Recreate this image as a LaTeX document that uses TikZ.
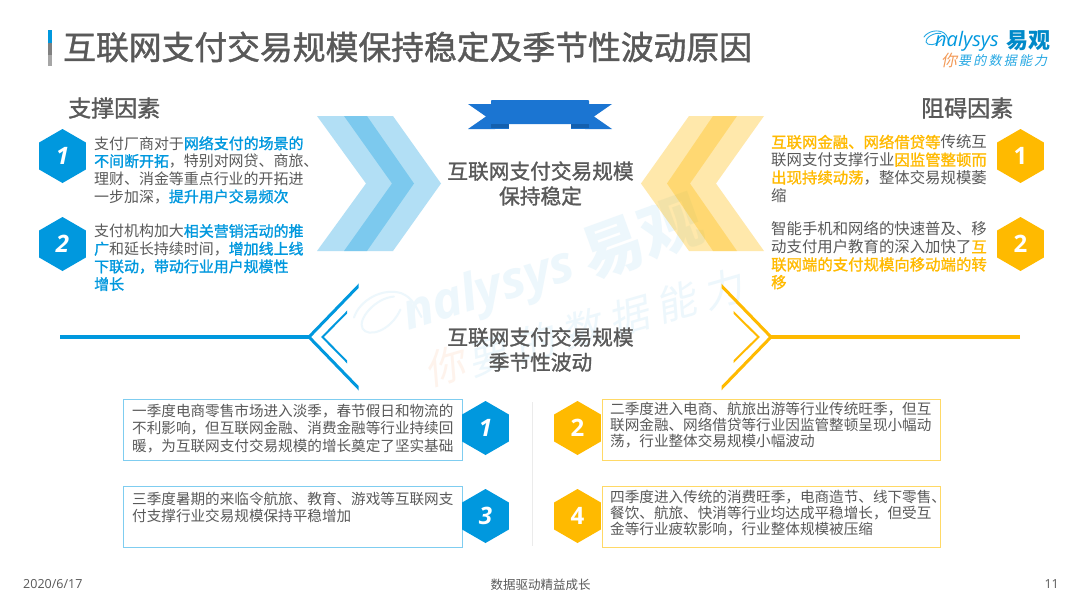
\documentclass[tikz,border=0pt]{standalone}
\usepackage{fontspec}
\usetikzlibrary{shapes.geometric}
\setmainfont{Noto Sans CJK SC}
\newfontfamily\latinf{Open Sans}
\newfontfamily\medf[FakeBold=1.3]{Noto Sans CJK SC}
\newfontfamily\logoslant[FakeSlant=0.2]{Noto Sans CJK SC}
\newfontfamily\wmslant[FakeSlant=0.2,LetterSpace=22]{Noto Sans CJK SC}
\definecolor{bluec}{HTML}{0098DE}
\definecolor{yelc}{HTML}{FFBA00}
\definecolor{txt}{HTML}{595959}
\definecolor{ribbon}{HTML}{1B75D2}
\definecolor{ribbond}{HTML}{1460AE}
\definecolor{boxb}{HTML}{7FCDF0}
\definecolor{boxy}{HTML}{FFD966}
\definecolor{wmblue}{HTML}{EDF7FC}
\definecolor{wmor}{HTML}{FEF3EC}
\newcommand{\hb}[1]{{\medf\color{bluec}#1}}
\newcommand{\hy}[1]{{\medf\color{yelc}#1}}
\newcommand{\swooshpath}{(0,7) .. controls (4,1) and (14,-1) .. (20,3) .. controls (24,6) and (24,10) .. (25,14) (17,3.5) .. controls (10,2) and (1,8) .. (2,12) .. controls (3,16) and (12,16) .. (18,9)}
\tikzset{
  hexa/.style={regular polygon,regular polygon sides=6,regular polygon rotate=30,minimum size=54pt,inner sep=0pt,fill=#1,text=white,font=\latinf\bfseries\fontsize{24}{24}\selectfont},
  para/.style={anchor=west,align=left,inner sep=0pt,text=txt,font=\fontsize{#1}{17.7}\selectfont},
  lowpara/.style={anchor=north west,align=left,inner sep=0pt,text=txt,font=\fontsize{14.6}{#1}\selectfont},
  boxx/.style={draw=#1,line width=1.3pt,fill=white,anchor=north west,inner sep=0pt},
  head/.style={inner sep=0pt,text=txt,font=\medf\fontsize{23}{23}\selectfont},
  midt/.style={inner sep=0pt,align=center,text=txt,font=\medf\fontsize{20.7}{25}\selectfont},
  foot/.style={inner sep=0pt,text=txt,font=\fontsize{12.5}{12.5}\selectfont},
  chev/.style={fill=#1,opacity=0.3},
}
\begin{document}
\begin{tikzpicture}[x=1pt,y=-1pt]
\useasboundingbox (0,0) rectangle (1080,608);
\fill[white] (0,0) rectangle (1080,608);

% watermark
\begin{scope}[shift={(349,300)},scale=2.6,rotate=16]
  \draw[wmblue,line width=2pt,line cap=round] \swooshpath;
\end{scope}
\node[rotate=17,inner sep=0pt,text=wmblue] (wmname) at (489,292) {\fontsize{51}{51}\selectfont\latinf\bfseries\itshape nalysys};
\node[rotate=20,inner sep=0pt,text=wmblue] (wmcn) at (642,238) {\fontsize{62}{62}\selectfont\bfseries 易观};
\node[rotate=16,inner sep=0pt,text=wmor] (wmni) at (445,366) {\fontsize{40}{40}\selectfont\logoslant 你};
\node[rotate=16,inner sep=0pt,text=wmblue] (wmrest) at (605,323) {\fontsize{40}{40}\selectfont\wmslant 要的数据能力};

% title
\fill[bluec] (48,30) rectangle (52,43);
\fill[black!50] (48,43) rectangle (52,55);
\fill[black!35] (48,55) rectangle (52,66);
\node[anchor=west,inner sep=0pt,text=txt,font=\medf\fontsize{32.8}{32.8}\selectfont] (title) at (63,47) {互联网支付交易规模保持稳定及季节性波动原因};

% logo
\begin{scope}[shift={(924,30)},scale=1]
  \draw[bluec!85,line width=0.9pt,line cap=round] \swooshpath;
\end{scope}
\node[anchor=west,inner sep=0pt,text=bluec] (logoname) at (935,41) {\fontsize{20}{20}\selectfont\latinf\itshape nalysys};
\node[anchor=west,inner sep=0pt,text=bluec!90!black] (logocn) at (1006,41) {\fontsize{22}{22}\selectfont\bfseries 易观};
\node[anchor=west,inner sep=0pt,text={rgb,255:red,243;green,154;blue,87}] (logoni) at (941,60) {\fontsize{16}{16}\selectfont\logoslant 你};
\node[anchor=west,inner sep=0pt,text=bluec!85] (logosub) at (958,60.5) {\fontsize{13}{13}\selectfont\logoslant\addfontfeature{LetterSpace=17} 要的数据能力};

% headings
\node[head,anchor=west] (sup) at (68,108) {支撑因素};
\node[head,anchor=west] (hin) at (921,108) {阻碍因素};

% ribbon
\fill[ribbon] (468,104) -- (495,104) -- (495,129) -- (468,129) -- (486,116.5) -- cycle;
\fill[ribbon] (612,104) -- (585,104) -- (585,129) -- (612,129) -- (594,116.5) -- cycle;
\fill[ribbon,rounded corners=0.8pt] (491,100) rectangle (589,124);
\fill[ribbond] (491,124) rectangle (509,127.8);
\fill[ribbond] (571,124) rectangle (589,127.8);
\fill[ribbon] (491,127.8) rectangle (509,129);
\fill[ribbon] (571,127.8) rectangle (589,129);

% chevrons
\fill[chev=bluec] (317,116) -- (367,116) -- (414,183.5) -- (367,251) -- (317,251) -- (366,183.5) -- cycle;
\fill[chev=bluec] (344,116) -- (393,116) -- (441,183.5) -- (393,251) -- (344,251) -- (392,183.5) -- cycle;
\fill[fill=yelc,opacity=0.33] (689,116) -- (737,116) -- (690,183.5) -- (737,251) -- (689,251) -- (641,183.5) -- cycle;
\fill[fill=yelc,opacity=0.33] (713,116) -- (764,116) -- (716,183.5) -- (764,251) -- (713,251) -- (667,183.5) -- cycle;

% centre text
\node[midt] (mid1) at (540.5,183.5) {互联网支付交易规模\\保持稳定};
\node[midt] (mid2) at (540.5,349.5) {互联网支付交易规模\\季节性波动};

% side hexagons
\node[hexa=bluec] (l1) at (62.5,156) {\itshape 1};
\node[hexa=bluec] (l2) at (62.5,244) {\itshape 2};
\node[hexa=yelc] (r1) at (1020.5,156) {1};
\node[hexa=yelc] (r2) at (1020.5,244) {2};

% side text
\node[para=14.95] (lt1) at (94,170) {支付厂商对于\hb{网络支付的场景的}\\\hb{不间断开拓}，特别对网贷、商旅、\\理财、消金等重点行业的开拓进\\一步加深，\hb{提升用户交易频次}};
\node[para=14.95] (lt2) at (94,257.5) {支付机构加大\hb{相关营销活动的推}\\\hb{广}和延长持续时间，\hb{增加线上线}\\\hb{下联动，带动行业用户规模性}\\\hb{增长}};
\node[para=15.4] (rt1) at (771,168.5) {\hy{互联网金融、网络借贷等}传统互\\联网支付支撑行业\hy{因监管整顿而}\\\hy{出现持续动荡}，整体交易规模萎\\缩};
\node[para=15.4] (rt2) at (771,255.5) {智能手机和网络的快速普及、移\\动支付用户教育的深入加快了\hy{互}\\\hy{联网端的支付规模向移动端的转}\\\hy{移}};

% fishbone
\coordinate (flt) at (309,337);
\coordinate (fle) at (60,337);
\draw[bluec,line width=3.6pt] (fle) -- (flt);
\begin{scope}
  \clip (300,280) rectangle (358.5,395);
  \draw[bluec,line width=3pt,miter limit=10] (370,274) -- (309,337) -- (370,400);
\end{scope}
\begin{scope}
  \clip (300,280) rectangle (347,395);
  \draw[bluec,line width=2pt,miter limit=10] (357,302) -- (322.5,337) -- (357,372);
\end{scope}
\coordinate (frt) at (770,337);
\coordinate (fre) at (1020,337);
\draw[yelc,line width=3.6pt] (frt) -- (fre);
\begin{scope}
  \clip (721.5,280) rectangle (790,395);
  \draw[yelc,line width=3pt,miter limit=10] (710,274) -- (771,337) -- (710,400);
\end{scope}
\begin{scope}
  \clip (733.5,280) rectangle (790,395);
  \draw[yelc,line width=2pt,miter limit=10] (723,302) -- (758.5,337) -- (723,372);
\end{scope}

% divider
\draw[black!8,line width=0.8pt] (532,402) -- (532,546);

% boxes
\node[boxx=boxb,minimum width=338.5pt,minimum height=61pt] (b1) at (123,398.5) {};
\node[boxx=boxb,minimum width=338.5pt,minimum height=61pt] (b3) at (123,486) {};
\node[boxx=boxy,minimum width=338pt,minimum height=61pt] (b2) at (601.5,398.5) {};
\node[boxx=boxy,minimum width=338pt,minimum height=61pt] (b4) at (601.5,486) {};

\node[hexa=bluec] (h1) at (485.5,428) {\itshape 1};
\node[hexa=bluec] (h3) at (485.5,516) {\itshape 3};
\node[hexa=yelc] (h2) at (577.5,428) {2};
\node[hexa=yelc] (h4) at (577.5,516) {4};

\node[lowpara=17.5] (t1) at (132,403.5) {一季度电商零售市场进入淡季，春节假日和物流的\\不利影响，但互联网金融、消费金融等行业持续回\\暖，为互联网支付交易规模的增长奠定了坚实基础};
\node[lowpara=17.5] (t3) at (132,491.5) {三季度暑期的来临令航旅、教育、游戏等互联网支\\付支撑行业交易规模保持平稳增加};
\node[lowpara=16] (t2) at (610,401.5) {二季度进入电商、航旅出游等行业传统旺季，但互\\联网金融、网络借贷等行业因监管整顿呈现小幅动\\荡，行业整体交易规模小幅波动};
\node[lowpara=16] (t4) at (610,489.5) {四季度进入传统的消费旺季，电商造节、线下零售、\\餐饮、航旅、快消等行业均达成平稳增长，但受互\\金等行业疲软影响，行业整体规模被压缩};

% footer
\node[foot,anchor=west] (fdate) at (23,584) {\latinf 2020/6/17};
\node[foot] (fmid) at (540.5,585) {数据驱动精益成长};
\node[foot,anchor=east] (fnum) at (1059,584.5) {\latinf 11};
\end{tikzpicture}
\end{document}
